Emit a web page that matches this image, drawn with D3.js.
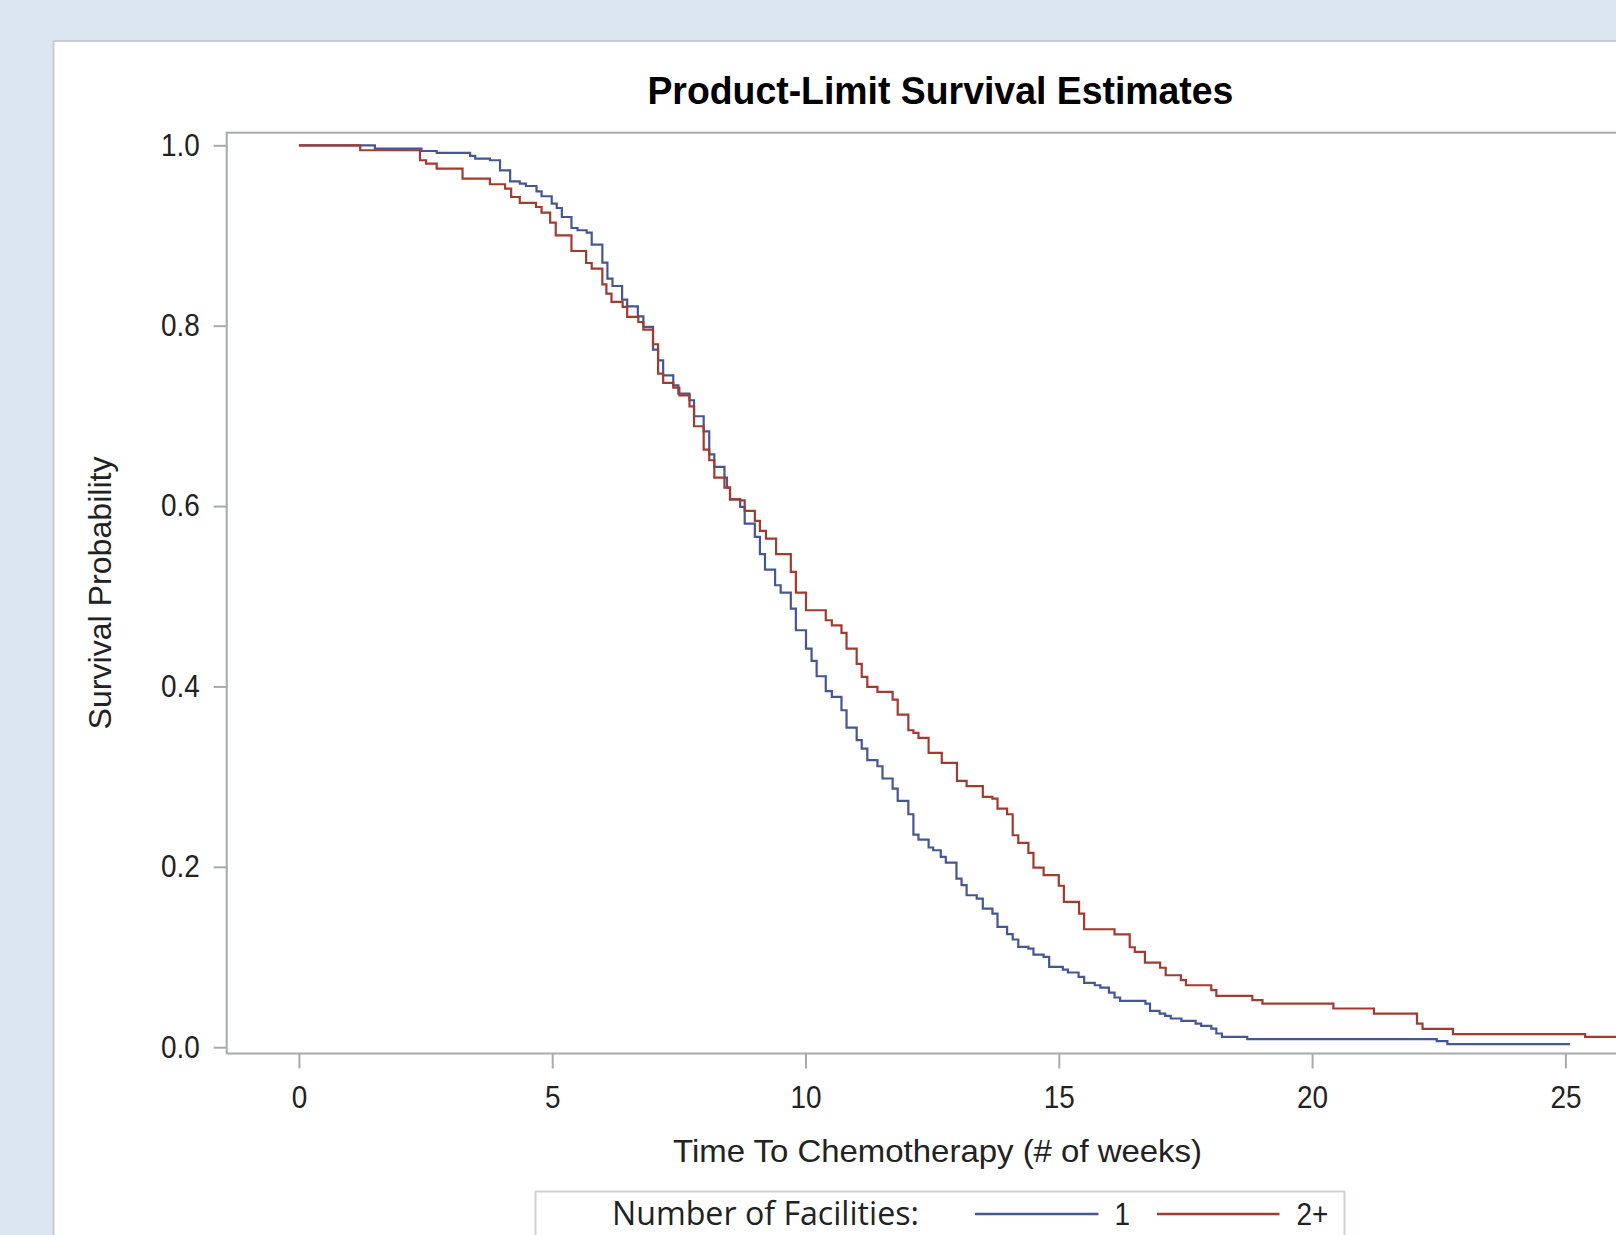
<!DOCTYPE html>
<html>
<head>
<meta charset="utf-8">
<script src="https://cdn.jsdelivr.net/npm/d3@7"></script>
<style>
  html, body { margin: 0; padding: 0; background: #dce6f1; overflow: hidden; }
  svg { display: block; }
</style>
</head>
<body>
<svg id="chart" width="1616" height="1235"></svg>
<script>
// ---------------- data ----------------
const chartTitle = "Product-Limit Survival Estimates";
const xTitle = "Time To Chemotherapy (# of weeks)";
const yTitle = "Survival Probability";
const legendTitle = "Number of Facilities:";
const groupNames = ["1", "2+"];
const timeTicks = [0, 5, 10, 15, 20, 25];
const probTicks = [0.0, 0.2, 0.4, 0.6, 0.8, 1.0];

// Kaplan-Meier step points [time (weeks), survival after step]
const survivalOne = [
  [0,1.0],[1.50,0.9963],[2.42,0.9937],[2.72,0.9915],[3.38,0.9882],[3.48,0.9852],[3.77,0.9834],
  [3.97,0.9723],[4.17,0.9601],[4.36,0.9575],[4.48,0.9549],[4.69,0.9490],[4.79,0.9435],[4.99,0.9353],
  [5.09,0.9305],[5.19,0.9205],[5.38,0.9083],[5.50,0.9058],[5.68,0.9032],[5.78,0.8899],[5.99,0.8699],
  [6.09,0.8522],[6.19,0.8440],[6.38,0.8289],[6.48,0.8215],[6.69,0.8104],[6.80,0.7986],[6.99,0.7735],
  [7.09,0.7616],[7.19,0.7450],[7.39,0.7339],[7.49,0.7247],[7.71,0.7173],[7.80,0.6996],[7.99,0.6829],
  [8.10,0.6574],[8.20,0.6434],[8.40,0.6316],[8.45,0.6205],[8.51,0.6075],[8.71,0.5990],[8.80,0.5806],
  [9.00,0.5658],[9.10,0.5466],[9.20,0.5296],[9.40,0.5122],[9.51,0.5041],[9.71,0.4863],[9.81,0.4623],
  [10.01,0.4420],[10.12,0.4283],[10.22,0.4113],[10.40,0.3947],[10.52,0.3884],[10.71,0.3736],[10.81,0.3544],
  [11.01,0.3404],[11.11,0.3311],[11.22,0.3182],[11.42,0.3115],[11.52,0.2979],[11.72,0.2868],[11.82,0.2731],
  [12.03,0.2583],[12.13,0.2358],[12.23,0.2302],[12.43,0.2214],[12.52,0.2184],[12.67,0.2110],[12.77,0.2047],
  [12.98,0.1870],[13.08,0.1796],[13.18,0.1685],[13.38,0.1648],[13.50,0.1537],[13.69,0.1482],[13.79,0.1334],
  [13.98,0.1253],[14.09,0.1194],[14.20,0.1112],[14.40,0.1094],[14.50,0.1027],[14.70,0.1001],[14.81,0.0891],
  [15.08,0.0861],[15.18,0.0828],[15.39,0.0780],[15.50,0.0713],[15.71,0.0687],[15.82,0.0661],[15.99,0.0606],
  [16.10,0.0551],[16.21,0.0514],[16.71,0.0484],[16.80,0.0403],[16.99,0.0373],[17.10,0.0347],[17.21,0.0318],
  [17.42,0.0292],[17.70,0.0262],[17.81,0.0237],[18.01,0.0207],[18.11,0.0152],[18.22,0.0115],[18.72,0.0089],
  [22.46,0.0067],[22.67,0.0033],[25.09,0.0033]
];
const survivalTwoPlus = [
  [0,1.0],[1.21,0.9945],[2.39,0.9834],[2.51,0.9797],[2.72,0.9741],[3.23,0.9630],[3.77,0.9568],
  [4.07,0.9520],[4.19,0.9427],[4.36,0.9361],[4.68,0.9316],[4.79,0.9254],[4.96,0.9143],[5.07,0.9002],
  [5.38,0.8828],[5.67,0.8695],[5.78,0.8633],[5.99,0.8459],[6.07,0.8355],[6.17,0.8263],[6.39,0.8208],
  [6.48,0.8097],[6.70,0.8041],[6.80,0.7956],[6.99,0.7794],[7.09,0.7469],[7.19,0.7365],[7.39,0.7313],
  [7.51,0.7228],[7.71,0.7106],[7.80,0.6885],[7.99,0.6626],[8.10,0.6508],[8.20,0.6316],[8.40,0.6205],
  [8.51,0.6075],[8.71,0.6064],[8.80,0.5946],[9.00,0.5835],[9.10,0.5724],[9.22,0.5639],[9.42,0.5466],
  [9.71,0.5270],[9.81,0.5041],[10.01,0.4845],[10.40,0.4734],[10.52,0.4678],[10.71,0.4593],[10.81,0.4420],
  [11.01,0.4250],[11.11,0.4106],[11.22,0.3995],[11.42,0.3939],[11.72,0.3854],[11.82,0.3688],[12.03,0.3514],
  [12.13,0.3485],[12.23,0.3429],[12.43,0.3263],[12.69,0.3152],[12.99,0.2953],[13.18,0.2894],[13.50,0.2775],
  [13.69,0.2757],[13.79,0.2646],[13.98,0.2583],[14.09,0.2350],[14.20,0.2265],[14.40,0.2154],[14.50,0.1992],
  [14.70,0.1907],[15.00,0.1790],[15.10,0.1611],[15.40,0.1482],[15.50,0.1308],[16.10,0.1251],[16.40,0.1108],
  [16.50,0.1057],[16.70,0.0937],[17.00,0.0881],[17.11,0.0798],[17.41,0.0743],[17.51,0.0687],[18.01,0.0632],
  [18.11,0.0569],[18.82,0.0521],[19.02,0.0484],[20.42,0.0429],[21.22,0.0373],[22.07,0.0262],[22.18,0.0203],
  [22.78,0.0144],[25.39,0.0115],[27.50,0.0115]
];
const seriesColors = ["#445694", "#a23a2e"];

// ---------------- layout ----------------
const svg = d3.select("#chart");
const font = "'Liberation Sans', Arial, Helvetica, sans-serif";
const frame = { left: 226.7, top: 132.7, right: 1720, bottom: 1053.5 };

const x = d3.scaleLinear().domain([0, 25]).range([298.9, 1565.4]);
const y = d3.scaleLinear().domain([0, 1]).range([1047.2, 145.3]);

// condense a text horizontally (the reference glyphs are narrow)
function condense(sel, f) {
  sel.each(function () {
    const w = this.getComputedTextLength();
    d3.select(this).attr("textLength", w * f).attr("lengthAdjust", "spacingAndGlyphs");
  });
}

// white panel
svg.append("rect")
  .attr("x", 53.5).attr("y", 41).attr("width", 1700).attr("height", 1400)
  .attr("fill", "#ffffff").attr("stroke", "#c8ccd0").attr("stroke-width", 2);

// title
svg.append("text")
  .attr("x", 940.4).attr("y", 104)
  .attr("text-anchor", "middle")
  .attr("font-family", font).attr("font-weight", "bold").attr("font-size", 39)
  .attr("textLength", 586).attr("lengthAdjust", "spacingAndGlyphs")
  .attr("fill", "#000")
  .text(chartTitle);

// clip for plot area
svg.append("defs").append("clipPath").attr("id", "plotclip")
  .append("rect")
  .attr("x", frame.left).attr("y", frame.top)
  .attr("width", frame.right - frame.left).attr("height", frame.bottom - frame.top);

// curves
const line = d3.line().x(d => x(d[0])).y(d => y(d[1])).curve(d3.curveStepAfter);
const curves = svg.append("g").attr("clip-path", "url(#plotclip)");
[survivalOne, survivalTwoPlus].forEach((s, i) => {
  curves.append("path")
    .datum(s)
    .attr("d", line)
    .attr("fill", "none")
    .attr("stroke", seriesColors[i])
    .attr("stroke-width", 2.2)
    .attr("stroke-linejoin", "miter");
});

// frame
svg.append("rect")
  .attr("x", frame.left).attr("y", frame.top)
  .attr("width", frame.right - frame.left).attr("height", frame.bottom - frame.top)
  .attr("fill", "none").attr("stroke", "#a6aaae").attr("stroke-width", 2);

// y axis
const yAxis = svg.append("g")
  .attr("transform", `translate(${frame.left},0)`)
  .call(d3.axisLeft(y).tickValues(probTicks).tickFormat(d3.format(".1f")).tickSize(13).tickPadding(14));
yAxis.select(".domain").remove();
yAxis.selectAll(".tick line").attr("stroke", "#a6aaae").attr("stroke-width", 2);
yAxis.selectAll(".tick text")
  .attr("font-family", font).attr("font-size", 31).attr("fill", "#222")
  .call(condense, 0.9);

// x axis
const xAxis = svg.append("g")
  .attr("transform", `translate(0,${frame.bottom})`)
  .call(d3.axisBottom(x).tickValues(timeTicks).tickFormat(d3.format("d")).tickSize(15).tickPadding(17));
xAxis.select(".domain").remove();
xAxis.selectAll(".tick line").attr("stroke", "#a6aaae").attr("stroke-width", 2);
xAxis.selectAll(".tick text")
  .attr("font-family", font).attr("font-size", 31).attr("fill", "#222")
  .call(condense, 0.9);

// axis titles
svg.append("text")
  .attr("x", 937.5).attr("y", 1162)
  .attr("text-anchor", "middle")
  .attr("font-family", font).attr("font-size", 32)
  .attr("textLength", 529).attr("lengthAdjust", "spacingAndGlyphs")
  .attr("fill", "#222")
  .text(xTitle);

svg.append("text")
  .attr("transform", "translate(111,593) rotate(-90)")
  .attr("text-anchor", "middle")
  .attr("font-family", font).attr("font-size", 32)
  .attr("textLength", 273).attr("lengthAdjust", "spacingAndGlyphs")
  .attr("fill", "#222")
  .text(yTitle);

// legend
const lg = svg.append("g");
lg.append("rect")
  .attr("x", 535.5).attr("y", 1191.5).attr("width", 809).attr("height", 80)
  .attr("fill", "#ffffff").attr("stroke", "#cfd2d5").attr("stroke-width", 2);
lg.append("text")
  .attr("x", 612).attr("y", 1225)
  .attr("font-family", "'Open Sans', 'Noto Sans', sans-serif").attr("font-size", 32)
  .attr("textLength", 307).attr("lengthAdjust", "spacingAndGlyphs")
  .attr("fill", "#222")
  .text(legendTitle);
const legendItems = [
  { x1: 975, x2: 1098.5, tx: 1114.5 },
  { x1: 1157, x2: 1279.5, tx: 1296.6 }
];
groupNames.forEach((g, i) => {
  lg.append("line")
    .attr("x1", legendItems[i].x1).attr("x2", legendItems[i].x2)
    .attr("y1", 1214).attr("y2", 1214)
    .attr("stroke", seriesColors[i]).attr("stroke-width", 2.5);
  lg.append("text")
    .attr("x", legendItems[i].tx).attr("y", 1225)
    .attr("font-family", font).attr("font-size", 31)
    .attr("fill", "#222")
    .text(g)
    .call(condense, 0.9);
});
</script>
</body>
</html>
